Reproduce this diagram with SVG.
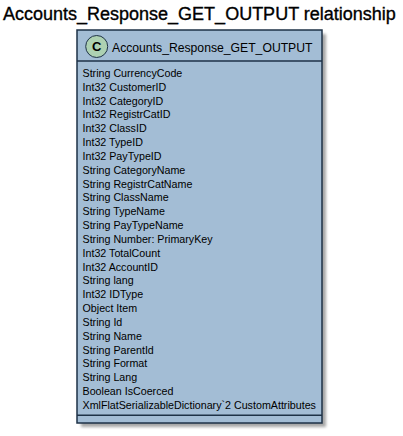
<svg xmlns="http://www.w3.org/2000/svg" width="403" height="436" viewBox="0 0 403 436">
<style>
.title{font-family:"Liberation Sans",Arial,sans-serif;font-size:18px;fill:#000;stroke:#000;stroke-width:0.35}
.hdr{font-family:"Liberation Sans",Arial,sans-serif;font-size:12.2px;fill:#000}
.attr{font-family:"Liberation Sans",Arial,sans-serif;font-size:10.7px;fill:#000}
.box{fill:#A3BDD5;stroke:#1E3247;stroke-width:1.5}
.sep{stroke:#1E3247;stroke-width:1.5}
.shadow{fill:#000;opacity:0.35}
</style>
<defs>
<filter id="blur" x="-10%" y="-10%" width="120%" height="120%"><feGaussianBlur stdDeviation="1.5"/></filter>
</defs>
<rect width="403" height="436" fill="#fff"/>
<text class="title" x="3" y="20">Accounts_Response_GET_OUTPUT relationship</text>
<g id="Accounts_Response_GET_OUTPUT">
<rect class="shadow" x="81" y="34" width="245" height="393" filter="url(#blur)"/>
<rect class="box" x="77" y="30" width="245" height="393"/>
<circle cx="96.7" cy="46.5" r="11" fill="#ADD1B2" stroke="#1E3247" stroke-width="1"/>
<text x="96.7" y="51" text-anchor="middle" style="font-family:'Liberation Sans',Arial,sans-serif;font-size:13px;font-weight:bold;fill:#000">C</text>
<text class="hdr" x="112" y="52">Accounts_Response_GET_OUTPUT</text>
<line class="sep" x1="77" y1="61" x2="322" y2="61"/>
<line class="sep" x1="77" y1="415.3" x2="322" y2="415.3"/>
<text class="attr" x="82.5">
<tspan x="82.5" y="77">String CurrencyCode</tspan>
<tspan x="82.5" y="90.83">Int32 CustomerID</tspan>
<tspan x="82.5" y="104.66">Int32 CategoryID</tspan>
<tspan x="82.5" y="118.49">Int32 RegistrCatID</tspan>
<tspan x="82.5" y="132.32">Int32 ClassID</tspan>
<tspan x="82.5" y="146.15">Int32 TypeID</tspan>
<tspan x="82.5" y="159.98">Int32 PayTypeID</tspan>
<tspan x="82.5" y="173.81">String CategoryName</tspan>
<tspan x="82.5" y="187.64">String RegistrCatName</tspan>
<tspan x="82.5" y="201.47">String ClassName</tspan>
<tspan x="82.5" y="215.3">String TypeName</tspan>
<tspan x="82.5" y="229.13">String PayTypeName</tspan>
<tspan x="82.5" y="242.96">String Number: PrimaryKey</tspan>
<tspan x="82.5" y="256.79">Int32 TotalCount</tspan>
<tspan x="82.5" y="270.62">Int32 AccountID</tspan>
<tspan x="82.5" y="284.45">String lang</tspan>
<tspan x="82.5" y="298.28">Int32 IDType</tspan>
<tspan x="82.5" y="312.11">Object Item</tspan>
<tspan x="82.5" y="325.94">String Id</tspan>
<tspan x="82.5" y="339.77">String Name</tspan>
<tspan x="82.5" y="353.6">String ParentId</tspan>
<tspan x="82.5" y="367.43">String Format</tspan>
<tspan x="82.5" y="381.26">String Lang</tspan>
<tspan x="82.5" y="395.09">Boolean IsCoerced</tspan>
<tspan x="82.5" y="408.92">XmlFlatSerializableDictionary`2 CustomAttributes</tspan>
</text>
</g>
<g id="connectors"/>
</svg>
